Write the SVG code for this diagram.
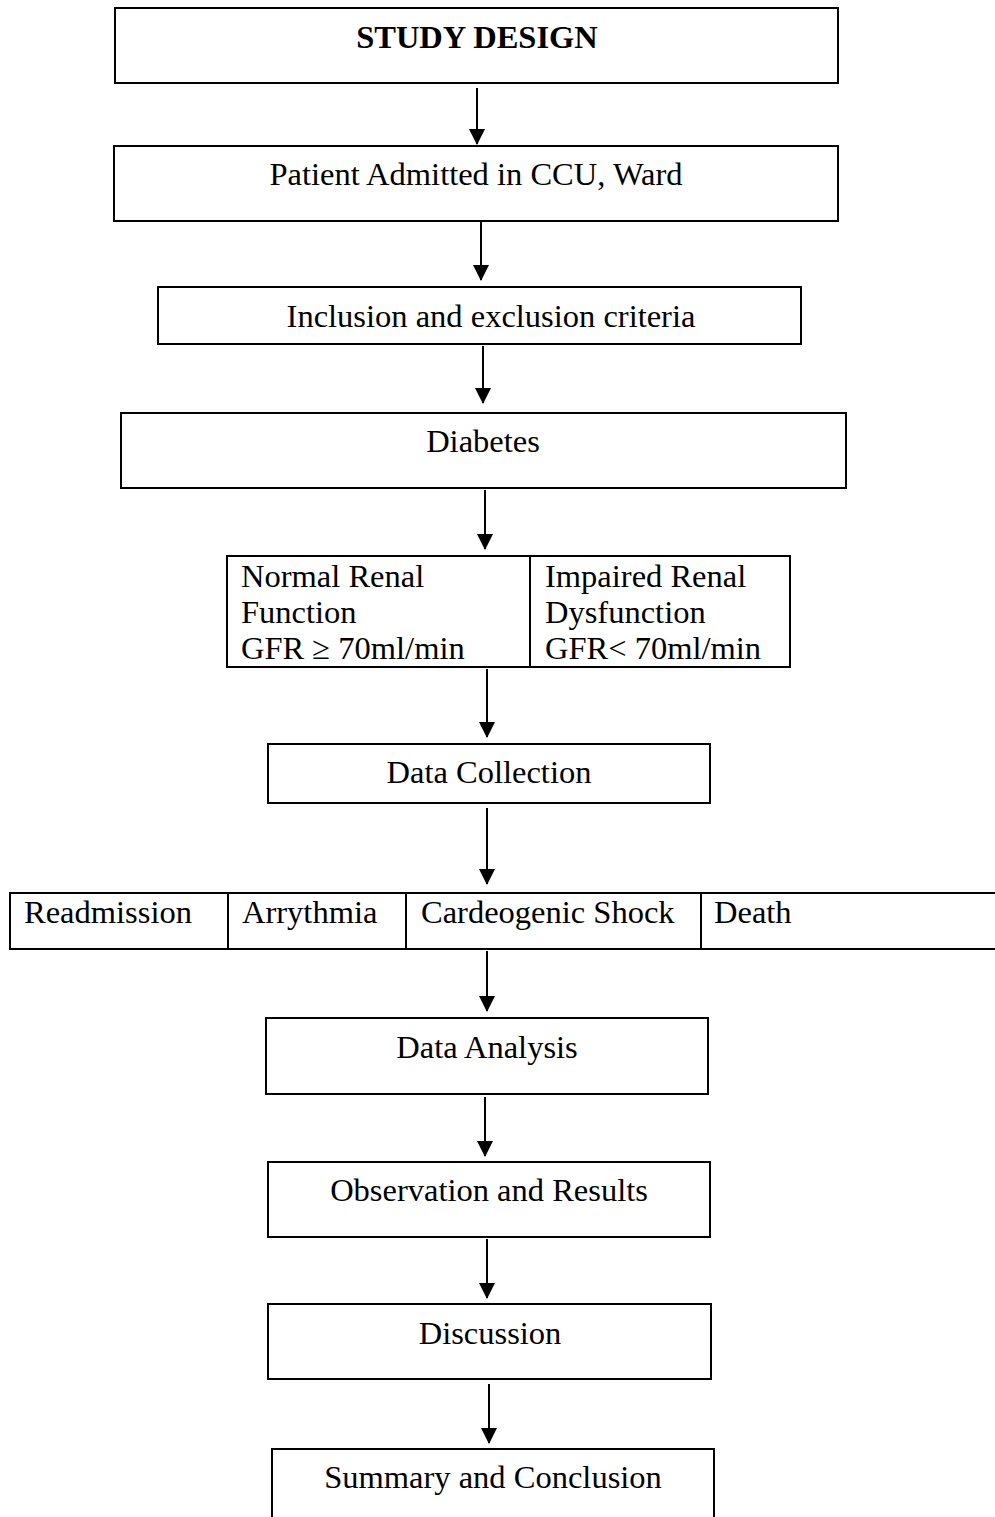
<svg xmlns="http://www.w3.org/2000/svg" width="995" height="1517" viewBox="0 0 995 1517">
<style>
  .box { fill: #ffffff; stroke: #000000; stroke-width: 2; }
  .ln { fill: none; stroke: #000000; stroke-width: 2; }
  .t { font-family: "Liberation Serif", "Times New Roman", serif; font-size: 32.5px; fill: #000000; }
  .c { text-anchor: middle; }
  .b { font-weight: bold; }
  .conn { stroke: #000000; stroke-width: 2; fill: none; marker-end: url(#arr); }
</style>
<defs>
  <marker id="arr" viewBox="0 0 16 16" refX="15" refY="8" markerWidth="16" markerHeight="16" markerUnits="userSpaceOnUse" orient="auto">
    <path d="M0,0 L16,8 L0,16 Z" fill="#000000"/>
  </marker>
</defs>
<rect width="995" height="1517" fill="#ffffff"/>

<g id="n-study-design">
  <rect class="box" x="115" y="8" width="723" height="75"/>
  <text class="t c b" x="477" y="48">STUDY DESIGN</text>
</g>
<g id="n-patient">
  <rect class="box" x="114" y="146" width="724" height="75"/>
  <text class="t c" x="476" y="185">Patient Admitted in CCU, Ward</text>
</g>
<g id="n-inclusion">
  <rect class="box" x="158" y="287" width="643" height="57"/>
  <text class="t c" x="491" y="327">Inclusion and exclusion criteria</text>
</g>
<g id="n-diabetes">
  <rect class="box" x="121" y="413" width="725" height="75"/>
  <text class="t c" x="483" y="452">Diabetes</text>
</g>
<g id="n-renal">
  <rect class="box" x="227" y="556" width="563" height="111"/>
  <line class="ln" x1="530" y1="556" x2="530" y2="667"/>
  <text class="t" x="241" y="587">Normal Renal</text>
  <text class="t" x="241" y="623">Function</text>
  <text class="t" x="241" y="659">GFR ≥ 70ml/min</text>
  <text class="t" x="545" y="587">Impaired Renal</text>
  <text class="t" x="545" y="623">Dysfunction</text>
  <text class="t" x="545" y="659">GFR&lt; 70ml/min</text>
</g>
<g id="n-data-collection">
  <rect class="box" x="268" y="744" width="442" height="59"/>
  <text class="t c" x="489" y="783">Data Collection</text>
</g>
<g id="n-outcomes">
  <path class="ln" d="M995,893 L10,893 L10,949 L995,949"/>
  <line class="ln" x1="228" y1="893" x2="228" y2="949"/>
  <line class="ln" x1="406" y1="893" x2="406" y2="949"/>
  <line class="ln" x1="701" y1="893" x2="701" y2="949"/>
  <text class="t" x="24" y="923">Readmission</text>
  <text class="t" x="242" y="923">Arrythmia</text>
  <text class="t" x="421" y="923">Cardeogenic Shock</text>
  <text class="t" x="714" y="923">Death</text>
</g>
<g id="n-data-analysis">
  <rect class="box" x="266" y="1018" width="442" height="76"/>
  <text class="t c" x="487" y="1058">Data Analysis</text>
</g>
<g id="n-observation">
  <rect class="box" x="268" y="1162" width="442" height="75"/>
  <text class="t c" x="489" y="1201">Observation and Results</text>
</g>
<g id="n-discussion">
  <rect class="box" x="268" y="1304" width="443" height="75"/>
  <text class="t c" x="490" y="1344">Discussion</text>
</g>
<g id="n-summary">
  <path class="ln" d="M272,1517 L272,1449 L714,1449 L714,1517"/>
  <text class="t c" x="493" y="1488">Summary and Conclusion</text>
</g>

<g id="connectors">
  <line class="conn" x1="477" y1="88" x2="477" y2="144"/>
  <line class="conn" x1="481" y1="222" x2="481" y2="280"/>
  <line class="conn" x1="483" y1="346" x2="483" y2="403"/>
  <line class="conn" x1="485" y1="490" x2="485" y2="549"/>
  <line class="conn" x1="487" y1="669" x2="487" y2="737"/>
  <line class="conn" x1="487" y1="808" x2="487" y2="884"/>
  <line class="conn" x1="487" y1="951" x2="487" y2="1011"/>
  <line class="conn" x1="485" y1="1097" x2="485" y2="1156"/>
  <line class="conn" x1="487" y1="1239" x2="487" y2="1298"/>
  <line class="conn" x1="489" y1="1384" x2="489" y2="1443"/>
</g>
</svg>
